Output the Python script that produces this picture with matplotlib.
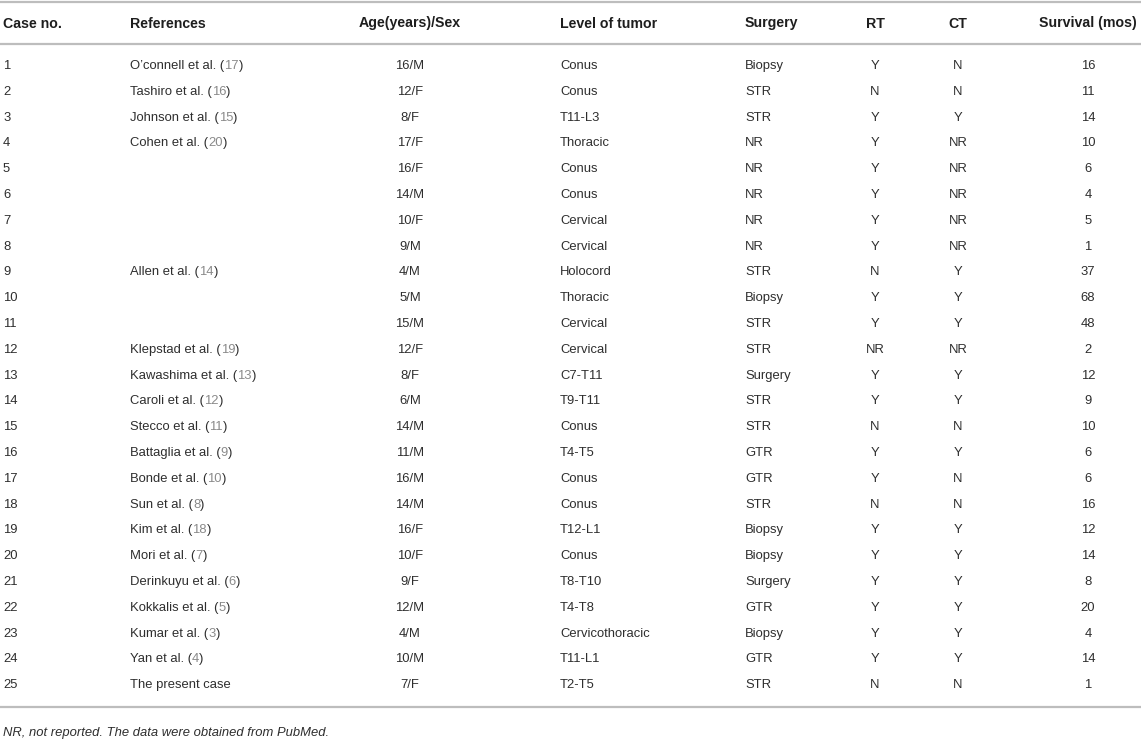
import numpy as np
import matplotlib
matplotlib.use('Agg')
from matplotlib import pyplot as plt

plt.rcParams['font.family'] = ['Liberation Sans', 'DejaVu Sans']

# table content
headers = ['Case no.', 'References', 'Age(years)/Sex', 'Level of tumor',
           'Surgery', 'RT', 'CT', 'Survival (mos)']
case_no = [str(i) for i in range(1, 26)]
authors = ['O\u2019connell et al.', 'Tashiro et al.', 'Johnson et al.', 'Cohen et al.',
           '', '', '', '', 'Allen et al.', '', '', 'Klepstad et al.',
           'Kawashima et al.', 'Caroli et al.', 'Stecco et al.', 'Battaglia et al.',
           'Bonde et al.', 'Sun et al.', 'Kim et al.', 'Mori et al.',
           'Derinkuyu et al.', 'Kokkalis et al.', 'Kumar et al.', 'Yan et al.',
           'The present case']
ref_nums = ['17', '16', '15', '20', '', '', '', '', '14', '', '', '19', '13', '12',
            '11', '9', '10', '8', '18', '7', '6', '5', '3', '4', '']
age_sex = ['16/M', '12/F', '8/F', '17/F', '16/F', '14/M', '10/F', '9/M', '4/M', '5/M',
           '15/M', '12/F', '8/F', '6/M', '14/M', '11/M', '16/M', '14/M', '16/F', '10/F',
           '9/F', '12/M', '4/M', '10/M', '7/F']
level = ['Conus', 'Conus', 'T11-L3', 'Thoracic', 'Conus', 'Conus', 'Cervical', 'Cervical',
         'Holocord', 'Thoracic', 'Cervical', 'Cervical', 'C7-T11', 'T9-T11', 'Conus',
         'T4-T5', 'Conus', 'Conus', 'T12-L1', 'Conus', 'T8-T10', 'T4-T8',
         'Cervicothoracic', 'T11-L1', 'T2-T5']
surgery = ['Biopsy', 'STR', 'STR', 'NR', 'NR', 'NR', 'NR', 'NR', 'STR', 'Biopsy', 'STR',
           'STR', 'Surgery', 'STR', 'STR', 'GTR', 'GTR', 'STR', 'Biopsy', 'Biopsy',
           'Surgery', 'GTR', 'Biopsy', 'GTR', 'STR']
rt = ['Y', 'N', 'Y', 'Y', 'Y', 'Y', 'Y', 'Y', 'N', 'Y', 'Y', 'NR', 'Y', 'Y', 'N', 'Y',
      'Y', 'N', 'Y', 'Y', 'Y', 'Y', 'Y', 'Y', 'N']
ct = ['N', 'N', 'Y', 'NR', 'NR', 'NR', 'NR', 'NR', 'Y', 'Y', 'Y', 'NR', 'Y', 'Y', 'N',
      'Y', 'N', 'N', 'Y', 'Y', 'Y', 'Y', 'Y', 'Y', 'N']
survival = [16, 11, 14, 10, 6, 4, 5, 1, 37, 68, 48, 2, 12, 9, 10, 6, 6, 16, 12, 14, 8,
            20, 4, 14, 1]
footnote = 'NR, not reported. The data were obtained from PubMed.'

# layout in pixels
W, H = 1141, 747
col_x = [3, 130, 410, 560, 745, 875, 958, 1088]
col_ha = ['left', 'left', 'center', 'left', 'left', 'center', 'center', 'center']
header_y = 23.5
row0_y = 66
row_step = 25.8
text_col = '#2e2e2e'
ref_col = '#8a8a8a'
rule_col = '#bdbdbd'
body_fs = 9.4
head_fs = 10.2

fig = plt.figure(figsize=(W / 100, H / 100), dpi=100)
ax = fig.add_axes([0, 0, 1, 1])
ax.set_xlim(0, W)
ax.set_ylim(H, 0)
ax.axis('off')

# horizontal rules
for yy in [2, 44, 707]:
    ax.plot([0, W], [yy, yy], color=rule_col, linewidth=1.6, solid_capstyle='butt')

# header
for x, ha, h in zip(col_x, col_ha, headers):
    ax.text(x, header_y, h, ha=ha, va='center', fontsize=head_fs,
            fontweight='bold', color='#1e1e1e')

columns = [case_no, None, age_sex, level, surgery, rt, ct, [str(s) for s in survival]]

for i in range(len(case_no)):
    y = row0_y + i * row_step
    for x, ha, col in zip(col_x, col_ha, columns):
        if col is None:
            continue
        ax.text(x, y, col[i], ha=ha, va='center', fontsize=body_fs, color=text_col)
    # reference with grey citation number
    if authors[i]:
        if ref_nums[i]:
            t1 = ax.text(col_x[1], y, authors[i] + ' (', ha='left', va='center',
                         fontsize=body_fs, color=text_col)
            t2 = ax.annotate(ref_nums[i], xy=(1, 0), xycoords=t1, ha='left', va='bottom',
                             fontsize=body_fs, color=ref_col)
            ax.annotate(')', xy=(1, 0), xycoords=t2, ha='left', va='bottom',
                        fontsize=body_fs, color=text_col)
        else:
            ax.text(col_x[1], y, authors[i], ha='left', va='center',
                    fontsize=body_fs, color=text_col)

ax.text(3, 733, footnote, ha='left', va='center', fontsize=body_fs,
        style='italic', color=text_col)

plt.savefig('out.png', dpi=100)
plt.close()
